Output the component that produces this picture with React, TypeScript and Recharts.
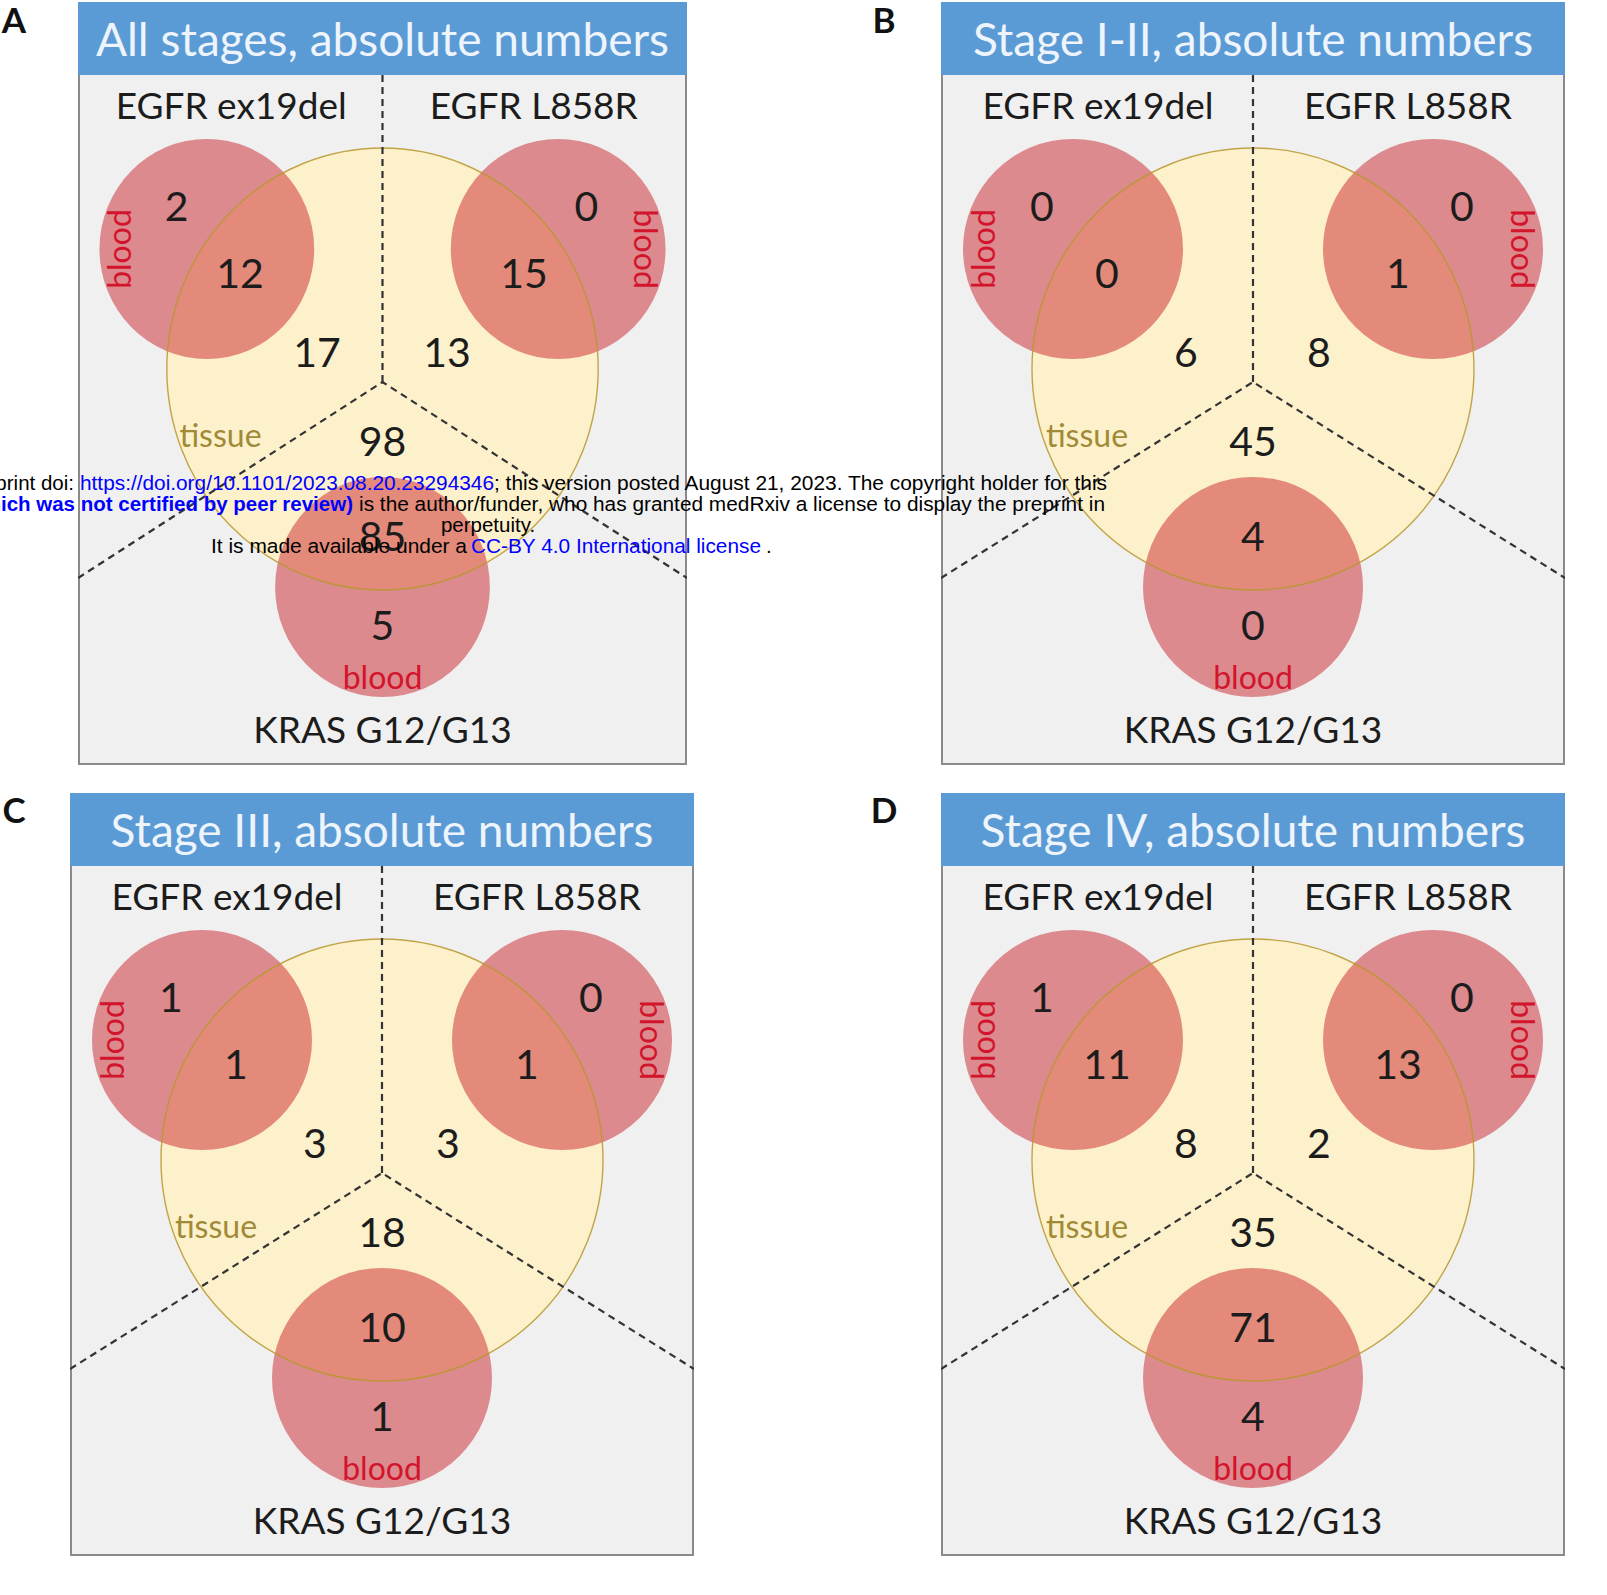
import { ScatterChart, Scatter, XAxis, YAxis } from 'recharts'

document.body.style.margin = '0'

const FONT = 'Lato, "Open Sans", sans-serif'

// region order: ex19del only, ex19del+tissue, tissue ex19del, tissue L858R,
// L858R+tissue, L858R only, tissue KRAS, KRAS+tissue, KRAS only
const countsA = [2, 12, 17, 13, 15, 0, 98, 85, 5]
const countsB = [0, 0, 6, 8, 1, 0, 45, 4, 0]
const countsC = [1, 1, 3, 3, 1, 0, 18, 10, 1]
const countsD = [1, 11, 8, 2, 13, 0, 35, 71, 4]
const allCounts = [countsA, countsB, countsC, countsD]

const titles = [
  'All stages, absolute numbers',
  'Stage I-II, absolute numbers',
  'Stage III, absolute numbers',
  'Stage IV, absolute numbers',
]
const panelLetters = ['A', 'B', 'C', 'D']
const mutations = ['EGFR ex19del', 'EGFR L858R', 'KRAS G12/G13']
const sampleLabels = ['tissue', 'blood']

// venn layout, units ~ px of a full-width panel, origin where the dashed lines meet
const regionPos = [
  [-211, -176], [-146, -109], [-67, -30], [66, -30], [145, -109],
  [209, -176], [0, 59], [0, 154], [0, 243],
]
const tissueCircle = [{ x: 0, y: -13, r: 221 }]
const bloodCircles = [
  { x: -180, y: -133, r: 110 },
  { x: 180, y: -133, r: 110 },
  { x: 0, y: 205, r: 110 },
]
const dividerTop = [{ x: 0, y: -307 }, { x: 0, y: 0 }]
const dividerV = [{ x: -312, y: 196 }, { x: 0, y: 0 }, { x: 312, y: 196 }]

const panels = [
  { left: 78, top: 2, width: 609 },
  { left: 941, top: 2, width: 624 },
  { left: 70, top: 793, width: 624 },
  { left: 941, top: 793, width: 624 },
]
const PANEL_H = 763
const TITLE_H = 73
const X_DOMAIN = [-312, 312]
const Y_DOMAIN = [-380, 383]

const ellipse = (kx: number, style: any) => (p: any) => (
  <ellipse cx={p.cx} cy={p.cy} rx={p.payload.r * kx} ry={p.payload.r} {...style} />
)

const textShape = (p: any) => {
  const d = p.payload
  return (
    <text
      x={p.cx}
      y={p.cy}
      dy="0.36em"
      textAnchor="middle"
      transform={d.rot ? `rotate(${d.rot} ${p.cx} ${p.cy})` : undefined}
      fontFamily={FONT}
      fontSize={d.size}
      fill={d.color}
    >
      {d.text}
    </text>
  )
}

const noDot = () => <g />

function VennPanel({ idx }: { idx: number }) {
  const frame = panels[idx]
  const kx = frame.width / (X_DOMAIN[1] - X_DOMAIN[0])
  const counts = allCounts[idx]
  const countPoints = regionPos.map(([x, y], i) => ({
    x, y, text: String(counts[i]), size: 41, color: '#1c1c1c',
  }))
  const red = '#d2142c'
  const labelPoints = [
    { x: 0, y: -343, text: titles[idx], size: 46, color: '#eef4fb' },
    { x: -155, y: -276, text: mutations[0], size: 37, color: '#1c1c1c' },
    { x: 155, y: -276, text: mutations[1], size: 37, color: '#1c1c1c' },
    { x: 0, y: 348, text: mutations[2], size: 37, color: '#1c1c1c' },
    { x: -166, y: 53, text: sampleLabels[0], size: 32, color: '#a08a36' },
    { x: -270, y: -133, text: sampleLabels[1], size: 32, color: red, rot: -90 },
    { x: 270, y: -133, text: sampleLabels[1], size: 32, color: red, rot: 90 },
    { x: 0, y: 295, text: sampleLabels[1], size: 32, color: red },
  ]
  const dash = { stroke: '#333', strokeWidth: 2.2, strokeDasharray: '7 5' }

  return (
    <div style={{ position: 'absolute', left: frame.left, top: frame.top, width: frame.width, height: PANEL_H }}>
      <div style={{ position: 'absolute', left: 0, top: 0, width: frame.width, height: TITLE_H, background: '#5b9bd5' }} />
      <div
        style={{
          position: 'absolute', left: 0, top: TITLE_H, width: frame.width, height: PANEL_H - TITLE_H,
          background: '#f0f0f0', border: '2px solid #8a8a8a', borderTop: 'none', boxSizing: 'border-box',
        }}
      />
      <div style={{ position: 'absolute', left: 0, top: 0 }}>
        <ScatterChart width={frame.width} height={PANEL_H} margin={{ top: 0, right: 0, bottom: 0, left: 0 }}>
          <XAxis type="number" dataKey="x" domain={X_DOMAIN} hide allowDataOverflow />
          <YAxis type="number" dataKey="y" domain={Y_DOMAIN} reversed hide allowDataOverflow />
          <Scatter data={tissueCircle} shape={ellipse(kx, { fill: '#fdf1cc' })} isAnimationActive={false} />
          <Scatter
            data={bloodCircles}
            shape={ellipse(kx, { fill: '#c40d16', fillOpacity: 0.45 })}
            isAnimationActive={false}
          />
          <Scatter
            data={tissueCircle}
            shape={ellipse(kx, { fill: 'none', stroke: '#b8962e', strokeOpacity: 0.85, strokeWidth: 1.4 })}
            isAnimationActive={false}
          />
          <Scatter data={dividerTop} line={dash} lineType="joint" shape={noDot} isAnimationActive={false} />
          <Scatter data={dividerV} line={dash} lineType="joint" shape={noDot} isAnimationActive={false} />
          <Scatter data={countPoints} shape={textShape} isAnimationActive={false} />
          <Scatter data={labelPoints} shape={textShape} isAnimationActive={false} />
        </ScatterChart>
      </div>
    </div>
  )
}

function Overlay() {
  const arial = '"Liberation Sans", Arial, sans-serif'
  const letterPos = [[14, 20], [884, 20], [14, 810], [884, 810]]
  return (
    <svg
      width={1607}
      height={1595}
      style={{ position: 'absolute', left: 0, top: 0, pointerEvents: 'none' }}
    >
      {panelLetters.map((l, i) => (
        <text
          key={l}
          x={letterPos[i][0]}
          y={letterPos[i][1]}
          dy="0.36em"
          textAnchor="middle"
          fontFamily={FONT}
          fontWeight={700}
          fontSize={35}
          fill="#111"
        >
          {l}
        </text>
      ))}
      <g fontFamily={arial} fontSize={20.5}>
        <text x={74} y={490} textAnchor="end" fill="#000">medRxiv preprint doi:</text>
        <text x={80} y={490} fill="#0000ff" textLength={414} lengthAdjust="spacingAndGlyphs">
          https://doi.org/10.1101/2023.08.20.23294346
        </text>
        <text x={494} y={490} fill="#000" textLength={613} lengthAdjust="spacingAndGlyphs">
          ; this version posted August 21, 2023. The copyright holder for this
        </text>
        <text x={353} y={511} textAnchor="end" fill="#0000ff" fontWeight={700}>
          which was not certified by peer review)
        </text>
        <text x={359} y={511} fill="#000" textLength={746} lengthAdjust="spacingAndGlyphs">
          is the author/funder, who has granted medRxiv a license to display the preprint in
        </text>
        <text x={488} y={532} textAnchor="middle" fill="#000">perpetuity.</text>
        <text x={211} y={553} fill="#000" textLength={256} lengthAdjust="spacingAndGlyphs">
          It is made available under a
        </text>
        <text x={471} y={553} fill="#0000ff" textLength={290} lengthAdjust="spacingAndGlyphs">
          CC-BY 4.0 International license
        </text>
        <text x={766} y={553} fill="#000">.</text>
      </g>
    </svg>
  )
}

export default function App() {
  return (
    <div style={{ position: 'relative', width: 1607, height: 1595, background: '#fff', overflow: 'hidden' }}>
      {panels.map((_, i) => (
        <VennPanel key={i} idx={i} />
      ))}
      <Overlay />
    </div>
  )
}
